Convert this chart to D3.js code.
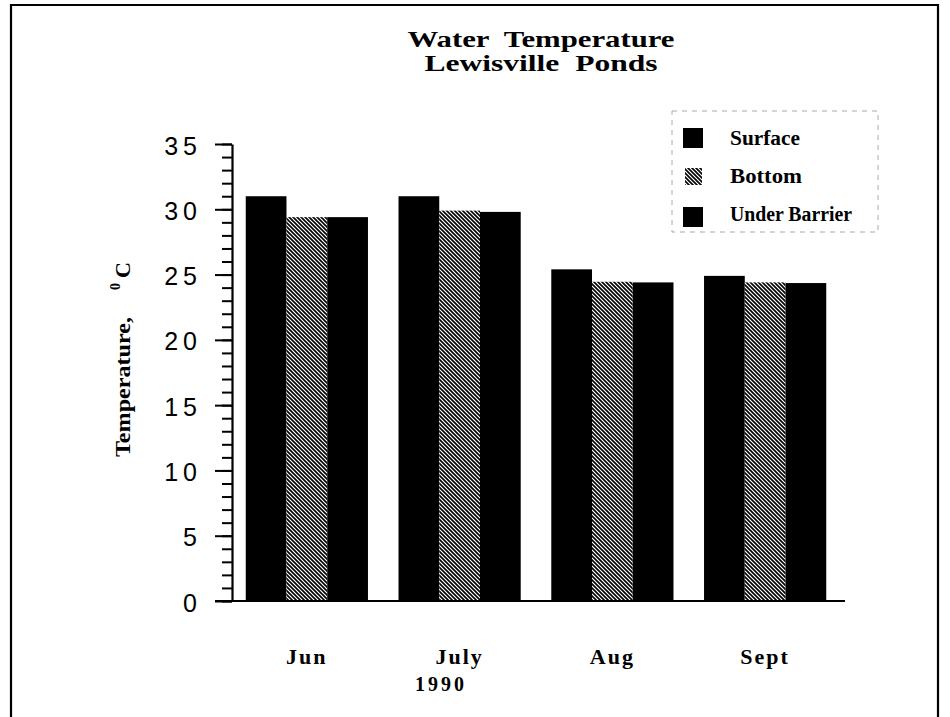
<!DOCTYPE html>
<html>
<head>
<meta charset="utf-8">
<script src="https://cdn.jsdelivr.net/npm/d3@7"></script>
<style>
  html, body { margin: 0; padding: 0; background: #fff; }
  svg { display: block; }
</style>
</head>
<body>
<script>
// ---- Data ----
const months = ["Jun", "July", "Aug", "Sept"];
const seriesNames = ["Surface", "Bottom", "Under Barrier"];
const surface = [31.0, 31.0, 25.4, 24.9];
const bottom = [29.4, 29.9, 24.45, 24.4];
const underBarrier = [29.4, 29.8, 24.4, 24.35];
const yTicks = [0, 5, 10, 15, 20, 25, 30, 35];
const titleLines = ["Water  Temperature", "Lewisville  Ponds"];
const xTitle = "1990";

const seriesValues = [surface, bottom, underBarrier];

const W = 950, H = 717;
const svg = d3.select("body").append("svg").attr("width", W).attr("height", H);

// hatch pattern
const defs = svg.append("defs");
const pat = defs.append("pattern")
  .attr("id", "hatch").attr("patternUnits", "userSpaceOnUse")
  .attr("width", 4).attr("height", 4);
pat.append("rect").attr("width", 4).attr("height", 4).attr("fill", "#fff");
pat.append("path")
  .attr("d", "M-1,-1 L5,5 M-1,3 L1,5 M3,-1 L5,1")
  .attr("stroke", "#000").attr("stroke-width", 1.6);

// frame
svg.append("path")
  .attr("d", "M11,717 L11,5 L938,5 L938,717")
  .attr("fill", "none").attr("stroke", "#000").attr("stroke-width", 2.2);

const serif = "'Liberation Serif', 'Times New Roman', serif";
const sans = "'Liberation Sans', Arial, sans-serif";

// scales
const y = d3.scaleLinear().domain([0, 35]).range([601, 144]);
const x0 = d3.scaleBand().domain(months).range([232, 840]).paddingInner(0.2).paddingOuter(0.09);
const x1 = d3.scaleBand().domain(seriesNames).range([0, x0.bandwidth()]);
const fills = {"Surface": "#000", "Bottom": "url(#hatch)", "Under Barrier": "#000"};

// bars
const rows = [];
months.forEach((m, i) => seriesNames.forEach((s, j) => rows.push({m, s, v: seriesValues[j][i]})));
svg.append("g").selectAll("rect").data(rows).join("rect")
  .attr("x", d => x0(d.m) + x1(d.s))
  .attr("y", d => y(d.v))
  .attr("width", x1.bandwidth())
  .attr("height", d => y(0) - y(d.v))
  .attr("fill", d => fills[d.s]);

// y axis: minor ticks
const axX = 232;
const minorG = svg.append("g").attr("transform", `translate(${axX},0)`)
  .call(d3.axisLeft(y).tickValues(d3.range(0, 36, 1)).tickSize(10).tickFormat(""));
minorG.select(".domain").remove();
minorG.selectAll("line").attr("stroke-width", 2);

const majorG = svg.append("g").attr("transform", `translate(${axX},0)`)
  .call(d3.axisLeft(y).tickValues(yTicks).tickSize(17).tickSizeOuter(0).tickPadding(13));
majorG.select(".domain").attr("stroke-width", 2.2);
majorG.selectAll("line").attr("stroke-width", 2);
majorG.selectAll("text")
  .attr("font-family", sans).attr("font-size", 25).attr("fill", "#000")
  .attr("letter-spacing", 5).attr("dy", "0.4em");

// x axis line
svg.append("line").attr("x1", 215).attr("x2", 845).attr("y1", y(0)).attr("y2", y(0))
  .attr("stroke", "#000").attr("stroke-width", 2.2);

// x labels
svg.append("g").selectAll("text").data(months).join("text")
  .attr("x", d => x0(d) + x0.bandwidth() / 2)
  .attr("y", 664)
  .attr("text-anchor", "middle")
  .attr("font-family", serif).attr("font-weight", "bold").attr("font-size", 22)
  .attr("letter-spacing", 2)
  .text(d => d);

svg.append("text").attr("x", 441).attr("y", 691).attr("text-anchor", "middle")
  .attr("font-family", serif).attr("font-weight", "bold").attr("font-size", 20)
  .attr("letter-spacing", 3).text(xTitle);

// title
svg.append("text").attr("x", 541).attr("y", 47).attr("text-anchor", "middle")
  .attr("font-family", serif).attr("font-weight", "bold").attr("font-size", 24)
  .attr("textLength", 267).attr("lengthAdjust", "spacingAndGlyphs")
  .style("white-space", "pre").text(titleLines[0]);
svg.append("text").attr("x", 541).attr("y", 71).attr("text-anchor", "middle")
  .attr("font-family", serif).attr("font-weight", "bold").attr("font-size", 24)
  .attr("textLength", 233).attr("lengthAdjust", "spacingAndGlyphs")
  .style("white-space", "pre").text(titleLines[1]);

// y title
svg.append("text").attr("transform", "translate(130,457) rotate(-90)")
  .attr("font-family", serif).attr("font-weight", "bold").attr("font-size", 22)
  .attr("textLength", 140).attr("lengthAdjust", "spacingAndGlyphs")
  .text("Temperature,");
svg.append("text").attr("transform", "translate(120,290) rotate(-90)")
  .attr("font-family", serif).attr("font-weight", "bold").attr("font-size", 14)
  .text("0");
svg.append("text").attr("transform", "translate(130,278) rotate(-90)")
  .attr("font-family", serif).attr("font-weight", "bold").attr("font-size", 22)
  .text("C");

// legend
svg.append("rect").attr("x", 672).attr("y", 111).attr("width", 206).attr("height", 121)
  .attr("fill", "none").attr("stroke", "#aaa").attr("stroke-width", 1)
  .attr("stroke-dasharray", "5,5");
const legY = [128, 168, 207];
const legBase = [145, 183, 221];
const legLen = [70, 72, 122];
seriesNames.forEach((s, i) => {
  svg.append("rect").attr("x", s === "Bottom" ? 685 : 683).attr("y", legY[i])
    .attr("width", s === "Bottom" ? 17 : 20).attr("height", s === "Bottom" ? 17 : 20)
    .attr("fill", fills[s]);
  svg.append("text").attr("x", 730).attr("y", legBase[i])
    .attr("font-family", serif).attr("font-weight", "bold").attr("font-size", 20)
    .attr("textLength", legLen[i]).attr("lengthAdjust", "spacingAndGlyphs")
    .text(s);
});
</script>
</body>
</html>
